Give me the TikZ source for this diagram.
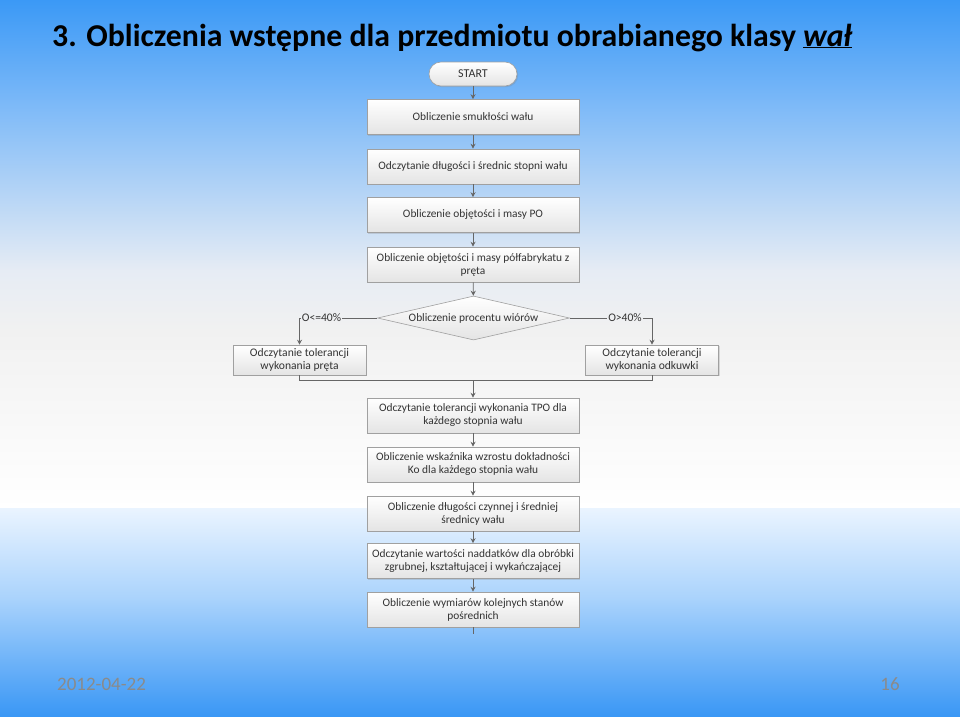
\documentclass[tikz,border=0pt]{standalone}
\usepackage{fontspec}
\setmainfont{Carlito}
\usetikzlibrary{shapes.geometric,arrows.meta,shadows}
\definecolor{bgA}{HTML}{3B99F6}
\definecolor{bgB}{HTML}{7AB8F8}
\definecolor{bgC}{HTML}{E6ECF4}
\definecolor{bgD}{HTML}{F1F1F1}
\definecolor{bgE}{HTML}{FFFFFF}
\definecolor{bgF}{HTML}{EAF4FF}
\definecolor{bgG}{HTML}{A8D2FC}
\definecolor{bgH}{HTML}{3A97F5}
\definecolor{boxline}{HTML}{A0A0A0}
\definecolor{boxbot}{HTML}{E4E4E4}
\definecolor{txt}{HTML}{333333}
\definecolor{arrc}{HTML}{666666}
\definecolor{footc}{HTML}{8A8A8A}
\begin{document}
\begin{tikzpicture}[x=1pt,y=-1pt,
  box/.style={draw=boxline, line width=0.6pt, top color=white, bottom color=boxbot,
    minimum width=212pt, minimum height=35pt, align=center, text=txt,
    font=\fontsize{11.4}{13}\selectfont, inner sep=2pt,
    drop shadow={shadow xshift=1.2pt, shadow yshift=-1.2pt, opacity=0.25}},
  sidebox/.style={box, minimum width=133pt, minimum height=30pt, font=\fontsize{11.6}{13}\selectfont},
  pill/.style={box, minimum width=88pt, minimum height=24pt, rounded corners=12pt, font=\fontsize{12}{14}\selectfont},
  decis/.style={diamond, draw=boxline, line width=0.6pt, top color=white, bottom color=boxbot,
    minimum width=192pt, minimum height=44pt, inner sep=0pt, aspect=4.3, text=txt,
    font=\fontsize{11.4}{13}\selectfont},
  lbl/.style={inner sep=1pt, text=txt, font=\fontsize{11.6}{13}\selectfont},
  conn/.style={draw=arrc, line width=0.8pt},
  arr/.style={conn, -{Stealth[length=5pt,width=5pt]}},
  foot/.style={text=footc, font=\fontsize{19}{22}\selectfont, inner sep=0pt}]
% background
\shade[top color=bgA, bottom color=bgB] (0,0) rectangle (960,101);
\shade[top color=bgB, bottom color=bgC] (0,100) rectangle (960,271);
\shade[top color=bgC, bottom color=bgD] (0,270) rectangle (960,331);
\shade[top color=bgD, bottom color=bgE] (0,330) rectangle (960,509);
\shade[top color=bgF, bottom color=bgG] (0,508) rectangle (960,601);
\shade[top color=bgG, bottom color=bgH] (0,600) rectangle (960,716);
\path[use as bounding box] (0,0) rectangle (960,716);
% title
\node[anchor=base west, inner sep=0pt, font=\fontsize{31.8}{36}\selectfont\bfseries, text=black] (title) at (52,46)
  {3. Obliczenia wstępne dla przedmiotu obrabianego klasy \textit{\underline{wał}}};
% flow
\node[pill] (start) at (473,74) {START};
\node[box] (b1) at (473,117) {Obliczenie smukłości wału};
\node[box] (b2) at (473,166.5) {Odczytanie długości i średnic stopni wału};
\node[box] (b3) at (473,215) {Obliczenie objętości i masy PO};
\node[box] (b4) at (473,264.5) {Obliczenie objętości i masy półfabrykatu z\\pręta};
\node[decis] (dia) at (473.5,318) {\raisebox{-1.5pt}{Obliczenie procentu wiórów}};
\node[sidebox] (lb) at (299.5,360) {Odczytanie tolerancji\\wykonania pręta};
\node[sidebox] (rb) at (652,360) {Odczytanie tolerancji\\wykonania odkuwki};
\node[box] (b5) at (473,415.5) {Odczytanie tolerancji wykonania TPO dla\\każdego stopnia wału};
\node[box] (b6) at (473,464.5) {Obliczenie wskaźnika wzrostu dokładności\\Ko dla każdego stopnia wału};
\node[box] (b7) at (473,513.5) {Obliczenie długości czynnej i średniej\\średnicy wału};
\node[box] (b8) at (473,561) {Odczytanie wartości naddatków dla obróbki\\zgrubnej, kształtującej i wykańczającej};
\node[box] (b9) at (473,609.5) {Obliczenie wymiarów kolejnych stanów\\pośrednich};
\node[lbl] (l1) at (321.5,318) {O<=40\%};
\node[lbl] (l2) at (625,318) {O>40\%};
\coordinate (m) at (473,380);
\coordinate (endp) at (473,634);
% connectors
\draw[arr] (start) -- (b1);
\draw[arr] (b1) -- (b2);
\draw[arr] (b2) -- (b3);
\draw[arr] (b3) -- (b4);
\draw[arr] (b4) -- (dia);
\draw[conn] (dia.west) -- (l1.east);
\draw[arr] (l1.west) -- (l1.west -| lb.north) -- (lb.north);
\draw[conn] (dia.east) -- (l2.west);
\draw[arr] (l2.east) -- (l2.east -| rb.north) -- (rb.north);
\draw[conn] (lb.south) -- (lb.south |- m) -- (rb.south |- m) -- (rb.south);
\draw[arr] (m) -- (b5);
\draw[arr] (b5) -- (b6);
\draw[arr] (b6) -- (b7);
\draw[arr] (b7) -- (b8);
\draw[arr] (b8) -- (b9);
\draw[conn] (b9) -- (endp);
% footer
\node[foot, anchor=west] (date) at (57,684) {2012-04-22};
\node[foot] (page) at (890,684) {16};
\end{tikzpicture}
\end{document}
